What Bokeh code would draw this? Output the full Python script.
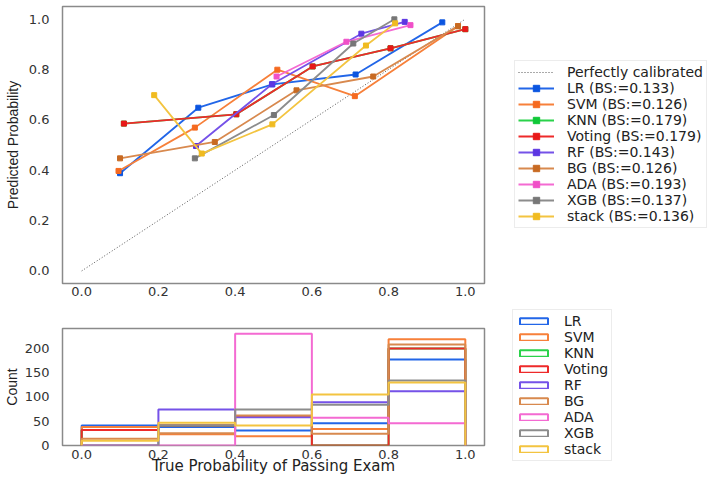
from bokeh.plotting import figure
from bokeh.models import (Legend, LegendItem, Range1d, FixedTicker,
                          PrintfTickFormatter)
from bokeh.layouts import column, row
from bokeh.embed import file_html
from bokeh.resources import INLINE

# ---------------- data ----------------
models = ["LR", "SVM", "KNN", "Voting", "RF", "BG", "ADA", "XGB", "stack"]
brier = ["0.133", "0.126", "0.179", "0.179", "0.143", "0.126", "0.193", "0.137", "0.136"]
colors = ["#2266e8", "#f7803a", "#2ad24a", "#ee2a2a", "#7552e8",
          "#d8894e", "#f46ad2", "#8c8c8c", "#f3c440"]
marker_colors = ["#0b55e0", "#f56a20", "#10c838", "#e81818", "#5c36e2",
                 "#c86a22", "#f050c8", "#777777", "#f0bb20"]

# calibration curves: x = true fraction, y = predicted probability
lr_true = [0.100, 0.304, 0.497, 0.714, 0.940]
lr_pred = [0.388, 0.648, 0.741, 0.780, 0.987]
svm_true = [0.096, 0.295, 0.510, 0.712, 0.981]
svm_pred = [0.397, 0.569, 0.799, 0.694, 0.972]
knn_true = [0.110, 0.403, 0.602, 0.805, 1.000]
knn_pred = [0.585, 0.622, 0.812, 0.884, 0.960]
voting_true = [0.110, 0.403, 0.602, 0.805, 1.000]
voting_pred = [0.585, 0.622, 0.812, 0.884, 0.960]
rf_true = [0.298, 0.496, 0.729, 0.842]
rf_pred = [0.496, 0.741, 0.942, 0.989]
bg_true = [0.100, 0.347, 0.560, 0.760, 0.981]
bg_pred = [0.447, 0.512, 0.717, 0.772, 0.972]
ada_true = [0.508, 0.690, 0.857]
ada_pred = [0.772, 0.910, 0.976]
xgb_true = [0.295, 0.501, 0.708, 0.815]
xgb_pred = [0.447, 0.619, 0.903, 0.999]
stack_true = [0.189, 0.313, 0.497, 0.741, 0.817]
stack_pred = [0.698, 0.466, 0.582, 0.895, 0.983]

diag_x = [0.0, 1.0]
diag_y = [0.0, 1.0]

# histogram counts (5 bins)
hist_edges = [0.0, 0.2, 0.4, 0.6, 0.8, 1.0]
lr_counts = [41, 38, 31, 46, 177]
svm_counts = [38, 23, 19, 34, 219]
knn_counts = [32, 41, 60, 0, 200]
voting_counts = [32, 41, 60, 0, 200]
rf_counts = [0, 74, 58, 89, 112]
bg_counts = [14, 25, 62, 24, 208]
ada_counts = [0, 0, 230, 57, 46]
xgb_counts = [0, 41, 74, 84, 134]
stack_counts = [10, 47, 41, 105, 130]

x_ticks = [0.0, 0.2, 0.4, 0.6, 0.8, 1.0]
y_ticks_top = [0.0, 0.2, 0.4, 0.6, 0.8, 1.0]
y_ticks_bottom = [0, 50, 100, 150, 200]

curves = [(lr_true, lr_pred), (svm_true, svm_pred), (knn_true, knn_pred),
          (voting_true, voting_pred), (rf_true, rf_pred), (bg_true, bg_pred),
          (ada_true, ada_pred), (xgb_true, xgb_pred), (stack_true, stack_pred)]
counts = [lr_counts, svm_counts, knn_counts, voting_counts, rf_counts,
          bg_counts, ada_counts, xgb_counts, stack_counts]

TICK_FONT = "DejaVu Sans"
YLAB_FONT = "Liberation Sans"


def style(p):
    p.background_fill_color = "white"
    p.border_fill_color = "white"
    p.grid.visible = False
    p.outline_line_color = "#8a8a8a"
    p.outline_line_width = 1.5
    for ax in [p.xaxis, p.yaxis]:
        ax.axis_line_color = None
        ax.major_tick_line_color = None
        ax.minor_tick_line_color = None
        ax.major_label_text_font = TICK_FONT
        ax.major_label_text_font_size = "13px"
        ax.major_label_text_color = "#333333"
        ax.axis_label_text_font_style = "normal"
        ax.axis_label_text_color = "#222222"
    p.xaxis.major_label_standoff = -3
    p.yaxis.major_label_standoff = 7


def legend_fig(h):
    # legend-only panel; its ranges lie away from the data so no glyph shows
    f = figure(width=238, height=h, x_range=Range1d(5, 6), y_range=Range1d(5, 6),
               output_backend="svg", toolbar_location=None,
               x_axis_location=None, y_axis_location=None, min_border=0)
    f.grid.visible = False
    f.outline_line_color = None
    f.background_fill_color = "white"
    f.border_fill_color = "white"
    return f


# ---------------- top: calibration ----------------
p1 = figure(width=486, height=305, x_range=Range1d(-0.05, 1.05),
            y_range=Range1d(-0.05, 1.05), output_backend="svg",
            toolbar_location=None, min_border_left=61, min_border_right=2,
            min_border_top=6, min_border_bottom=22)
style(p1)
p1.xaxis.ticker = FixedTicker(ticks=x_ticks)
p1.yaxis.ticker = FixedTicker(ticks=y_ticks_top)
p1.xaxis.formatter = PrintfTickFormatter(format="%.1f")
p1.yaxis.formatter = PrintfTickFormatter(format="%.1f")
p1.yaxis.axis_label = "Predicted Probability"
p1.yaxis.axis_label_text_font = YLAB_FONT
p1.yaxis.axis_label_text_font_size = "14px"
p1.yaxis.axis_label_standoff = 5

L1 = legend_fig(305)
items = []
p1.line(diag_x, diag_y, line_color="#555555", line_width=1, line_dash="1 2")
dd = L1.line(diag_x, diag_y, line_color="#555555", line_width=1, line_dash="1 2")
items.append(LegendItem(label="Perfectly calibrated", renderers=[dd]))
for name, bs, col, mcol, (xt, yp) in zip(models, brier, colors, marker_colors, curves):
    p1.line(xt, yp, line_color=col, line_width=1.8)
    p1.scatter(xt, yp, marker="square", size=5, fill_color=mcol, line_color=mcol)
    ln = L1.line(xt, yp, line_color=col, line_width=1.8)
    sc = L1.scatter(xt, yp, marker="square", size=4, fill_color=mcol, line_color=mcol)
    items.append(LegendItem(label=f"{name} (BS:={bs})", renderers=[ln, sc]))

leg1 = Legend(items=items, location=(28, 77), label_text_font=TICK_FONT,
              label_text_font_size="14px", label_text_color="#222222",
              glyph_width=36, glyph_height=16, label_height=16,
              label_standoff=13, spacing=0, padding=3, margin=0,
              border_line_color="#d9d9d9", border_line_width=1,
              background_fill_color="white", background_fill_alpha=1)
L1.add_layout(leg1)

# ---------------- bottom: histogram ----------------
p2 = figure(width=486, height=173, x_range=Range1d(-0.05, 1.05),
            y_range=Range1d(0, 241), output_backend="svg",
            toolbar_location=None, min_border_left=61, min_border_right=2,
            min_border_top=23, min_border_bottom=33)
style(p2)
p2.xaxis.ticker = FixedTicker(ticks=x_ticks)
p2.yaxis.ticker = FixedTicker(ticks=y_ticks_bottom)
p2.xaxis.formatter = PrintfTickFormatter(format="%.1f")
p2.xaxis.major_label_standoff = -2
p2.xaxis.axis_label = "True Probability of Passing Exam"
p2.xaxis.axis_label_text_font = TICK_FONT
p2.xaxis.axis_label_text_font_size = "15px"
p2.xaxis.axis_label_standoff = -5
p2.yaxis.axis_label = "Count"
p2.yaxis.axis_label_text_font = YLAB_FONT
p2.yaxis.axis_label_text_font_size = "14px"
p2.yaxis.axis_label_standoff = 2

L2 = legend_fig(173)
hitems = []
for name, col, cnt in zip(models, colors, counts):
    xs = [hist_edges[0]]
    ys = [0]
    for i, c in enumerate(cnt):
        xs += [hist_edges[i], hist_edges[i + 1]]
        ys += [c, c]
    xs.append(hist_edges[-1])
    ys.append(0)
    p2.line(xs, ys, line_color=col, line_width=2)
    q = L2.quad(left=hist_edges[:-1], right=hist_edges[1:], top=cnt, bottom=0,
                fill_alpha=0, line_color=col, line_width=2)
    hitems.append(LegendItem(label=name, renderers=[q]))

leg2 = Legend(items=hitems, location=(26, 17), label_text_font=TICK_FONT,
              label_text_font_size="14px", label_text_color="#222222",
              glyph_width=35, glyph_height=8, label_height=15,
              label_standoff=13, spacing=0, padding=3, margin=0,
              border_line_color="#d9d9d9", border_line_width=1,
              background_fill_color="white", background_fill_alpha=1)
L2.add_layout(leg2)

layout = row(column(p1, p2, spacing=0), column(L1, L2, spacing=0), spacing=0)
open("out.html", "w").write(file_html(layout, INLINE))
